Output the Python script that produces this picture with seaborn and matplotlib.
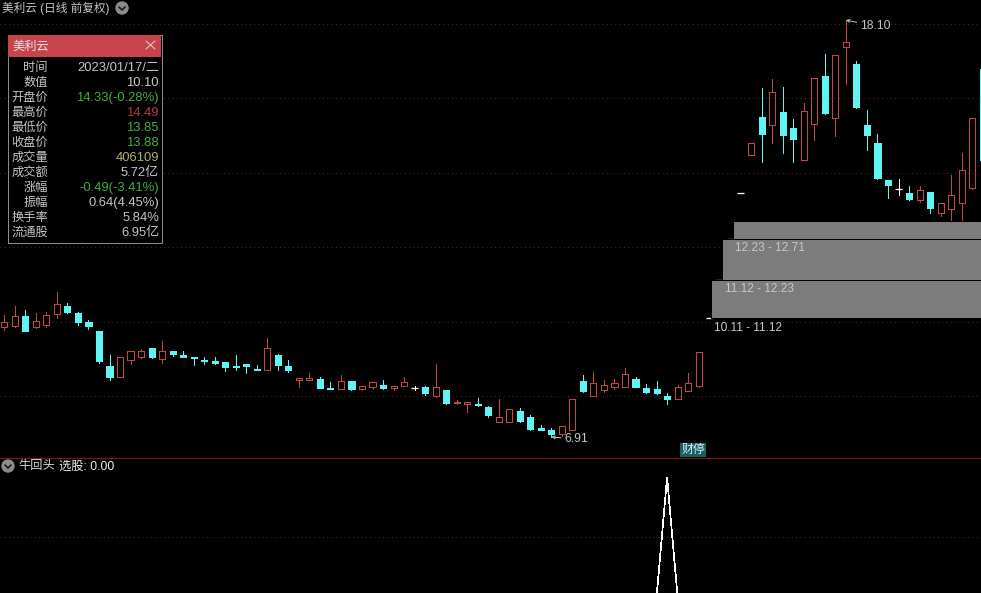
import matplotlib
matplotlib.use('Agg')
import matplotlib.pyplot as plt
from matplotlib.lines import Line2D
from matplotlib.patches import Rectangle, Circle
import numpy as np
import pandas as pd
import seaborn as sns

###################################
# colours of the trading software
red = "#c24848"
cyan = "#5ff5f5"
grid_red = "#5e2222"
grey = "#c4c4c4"
green = "#3fae3f"
###################################

opens = [9.87, 9.89, 10.16, 9.87, 9.92, 10.21, 10.43, 10.24, 10.00, 9.76,
         8.82, 8.52, 8.98, 9.06, 9.30, 9.01, 9.22, 9.11, 9.06, 8.98,
         8.95, 8.93, 8.82, 8.87, 8.74, 8.71, 9.11, 8.82, 8.44, 8.44,
         8.47, 8.23, 8.20, 8.42, 8.20, 8.26, 8.31, 8.23, 8.28, 8.23,
         8.26, 8.01, 8.18, 7.83, 7.80, 7.80, 7.72, 7.32, 7.32, 7.61,
         7.45, 7.16, 7.10, 7.00, 7.10, 8.42, 8.01, 8.18, 8.26, 8.26,
         8.47, 8.23, 8.20, 8.01, 7.93, 8.15, 8.28, 10.11, 11.12, 12.23,
         13.46, 14.48, 15.50, 15.29, 15.63, 15.21, 14.35, 15.31, 16.60, 15.47,
         17.38, 16.92, 15.29, 14.80, 13.81, 13.57, 13.46, 13.27, 13.49, 12.92,
         13.03, 13.19, 13.60, 16.79]
highs = [10.19, 10.43, 10.32, 10.24, 10.27, 10.80, 10.51, 10.27, 10.05, 9.76,
         9.11, 9.06, 9.22, 9.28, 9.30, 9.49, 9.22, 9.22, 9.06, 9.06,
         9.06, 8.93, 9.11, 8.87, 8.85, 9.57, 9.14, 8.98, 8.50, 8.63,
         8.52, 8.39, 8.58, 8.42, 8.28, 8.39, 8.44, 8.28, 8.52, 8.28,
         8.28, 8.87, 8.18, 7.91, 7.85, 7.96, 7.75, 7.93, 7.67, 7.69,
         7.50, 7.24, 7.16, 7.21, 7.93, 8.58, 8.66, 8.44, 8.47, 8.77,
         8.52, 8.34, 8.42, 8.10, 8.31, 8.63, 9.20, 10.11, 11.12, 12.23,
         13.46, 14.80, 16.28, 16.52, 16.31, 15.45, 15.88, 16.55, 17.19, 17.16,
         18.10, 17.00, 15.69, 15.04, 13.81, 13.84, 13.65, 13.65, 13.49, 13.19,
         13.94, 14.53, 15.47, 16.79]
lows = [9.79, 9.87, 9.76, 9.84, 9.87, 10.11, 10.24, 9.92, 9.81, 8.90,
        8.44, 8.52, 8.87, 9.03, 9.03, 8.90, 9.09, 9.06, 8.85, 8.87,
        8.87, 8.69, 8.71, 8.63, 8.71, 8.71, 8.71, 8.66, 8.26, 8.44,
        8.23, 8.20, 8.20, 8.18, 8.18, 8.20, 8.20, 8.18, 8.28, 8.18,
        8.04, 7.99, 7.80, 7.80, 7.59, 7.75, 7.45, 7.32, 7.32, 7.32,
        7.10, 7.10, 6.91, 6.94, 7.10, 8.12, 8.01, 8.12, 8.20, 8.26,
        8.26, 8.10, 8.07, 7.80, 7.93, 8.15, 8.26, 10.11, 11.12, 12.23,
        13.46, 14.48, 14.29, 14.80, 14.53, 14.29, 14.35, 14.88, 15.58, 14.99,
        16.39, 15.74, 14.61, 13.84, 13.33, 13.41, 13.27, 13.22, 12.92, 12.84,
        12.68, 12.68, 13.57, 14.35]
closes = [10.00, 10.16, 9.76, 10.03, 10.19, 10.48, 10.27, 10.00, 9.89, 8.95,
          8.52, 9.06, 9.22, 9.22, 9.06, 9.22, 9.14, 9.06, 9.03, 8.95,
          8.90, 8.79, 8.79, 8.82, 8.71, 9.30, 8.85, 8.71, 8.50, 8.50,
          8.23, 8.20, 8.42, 8.20, 8.28, 8.39, 8.23, 8.28, 8.39, 8.23,
          8.10, 8.26, 7.83, 7.85, 7.85, 7.77, 7.50, 7.45, 7.67, 7.34,
          7.13, 7.10, 7.00, 7.21, 7.93, 8.15, 8.36, 8.31, 8.36, 8.60,
          8.26, 8.12, 8.10, 7.93, 8.26, 8.36, 9.20, 10.11, 11.12, 12.23,
          13.46, 14.80, 15.04, 16.17, 15.02, 14.91, 15.66, 16.55, 15.61, 17.16,
          17.51, 15.77, 15.02, 13.86, 13.68, 13.57, 13.30, 13.54, 13.06, 13.19,
          13.41, 14.08, 15.47, 14.35]
stock_pick = [0] * 63 + [1] + [0] * 30

zone_lo = [10.11, 11.12, 12.23]
zone_hi = [11.12, 12.23, 12.71]
zone_start = [67.22, 68.22, 69.22]

info_labels = ["时间", "数值", "开盘价", "最高价", "最低价", "收盘价", "成交量",
               "成交额", "涨幅", "振幅", "换手率", "流通股"]
info_values = ["2023/01/17/二", "10.10", "14.33(-0.28%)", "14.49", "13.85", "13.88",
               "406109", "5.72亿", "-0.49(-3.41%)", "0.64(4.45%)", "5.84%", "6.95亿"]
info_colors = [grey, grey, green, "#b83a3a", green, green, "#b3ae6e", grey, green, grey, grey, grey]

W, H = 981, 593
SPLIT = 457.5
PX = 0.72  # one pixel in points

sns.set_theme(style="dark", rc={"figure.facecolor": "black", "axes.facecolor": "black"})
plt.rcParams['font.family'] = ['Liberation Sans', 'Noto Sans CJK SC', 'DejaVu Sans']

fig = plt.figure(figsize=(W / 100, H / 100), dpi=100)
ax = fig.add_axes([0, 1 - SPLIT / H, 1, SPLIT / H])
ax2 = fig.add_axes([0, 0, 1, 1 - (SPLIT + 1) / H])

df = pd.DataFrame({"idx": np.arange(len(opens)), "open": opens, "high": highs,
                   "low": lows, "close": closes})
df["top"] = df[["open", "close"]].max(axis=1)
df["bot"] = df[["open", "close"]].min(axis=1)
df["body"] = df["top"] - df["bot"]
df["color"] = np.where(df["close"] > df["open"], red, np.where(df["close"] < df["open"], cyan, "white"))

# wicks, split so they stay out of the hollow bodies
ax.vlines(df["idx"], df["top"], df["high"], colors=df["color"], lw=PX, zorder=2, antialiased=False)
ax.vlines(df["idx"], df["low"], df["bot"], colors=df["color"], lw=PX, zorder=2, antialiased=False)

up = df[df["close"] > df["open"]]
down = df[df["close"] < df["open"]]
flat = df[df["close"] == df["open"]]
sns.barplot(data=up, x="idx", y="body", bottom=up["bot"].values, native_scale=True, errorbar=None,
            fill=False, color=red, edgecolor=red, width=0.58, linewidth=PX, saturation=1, ax=ax, zorder=3,
            antialiased=False)
sns.barplot(data=down, x="idx", y="body", bottom=down["bot"].values, native_scale=True, errorbar=None,
            color=cyan, width=0.58, linewidth=PX, edgecolor=cyan, saturation=1, ax=ax, zorder=3,
            antialiased=False)
ax.hlines(flat["open"], flat["idx"] - 0.32, flat["idx"] + 0.32, colors="white", lw=PX * 1.3, zorder=3)

# chip zones sit on top of the candles
ax.barh([(a + b) / 2 for a, b in zip(zone_lo, zone_hi)], [100] * 3,
        height=[b - a for a, b in zip(zone_lo, zone_hi)], left=zone_start,
        color="#7c7c7c", edgecolor="black", linewidth=PX, zorder=4)

ax.set_xlim(-0.409, 92.84)
ax.set_ylim(6.36, 18.64)
ax.set_yticks([8, 10, 12, 14, 16, 18])
ax.grid(axis="y", color=grid_red, linestyle=(0, (1, 3.3)), linewidth=PX)
ax.grid(axis="x", visible=False)
ax.set_axisbelow(True)

sns.lineplot(x=df["idx"], y=stock_pick, color="white", linewidth=0.5, errorbar=None, ax=ax2,
             antialiased=False)
ax2.set_xlim(-0.409, 92.84)
ax2.set_ylim(0.033, 1.158)
ax2.set_yticks([0.5])
ax2.grid(axis="y", color=grid_red, linestyle=(0, (1, 3.3)), linewidth=PX)
ax2.grid(axis="x", visible=False)

for a in (ax, ax2):
    a.set_xlabel("")
    a.set_ylabel("")
    a.tick_params(left=False, bottom=False, labelleft=False, labelbottom=False)
    for s in a.spines.values():
        s.set_visible(False)


def fx(x):
    return x / W


def fy(y):
    return 1 - y / H


def label(x, y, s, color=grey, size=8.6, ha="left", zorder=10):
    fig.text(fx(x), fy(y + 1.5), s, color=color, fontsize=size, ha=ha, va="center", zorder=zorder)


def menu_dot(x, y):
    fig.add_artist(Circle((x, H - y), 6, transform=None, color="#8c8c8c", zorder=9))
    fig.add_artist(Line2D([fx(x - 3), fx(x), fx(x + 3)], [fy(y - 1), fy(y + 2), fy(y - 1)],
                          color="#1c1c1c", lw=1.2, zorder=10))


# separator between the panes
fig.add_artist(Line2D([0, 1], [fy(458), fy(458)], color="#6e1c1c", lw=0.9, zorder=8))

# header lines
label(2, 7, "美利云 (日线 前复权)", size=8.4)
menu_dot(122, 8)
menu_dot(8, 466)
label(18, 465, "牛回头", size=8.8, color="#d8d8d8")
label(59, 465, "选股: 0.00", size=8.8, color="#f0f0f0")

# info panel
fig.add_artist(Rectangle((fx(7.5), fy(242.5)), 154 / W, 207.5 / H, transform=fig.transFigure,
                         facecolor="black", edgecolor="#8a8a8a", lw=PX, zorder=8))
fig.add_artist(Rectangle((fx(8), fy(57)), 153 / W, 22 / H, transform=fig.transFigure,
                         facecolor="#c8444c", edgecolor="none", zorder=8.5))
label(12, 45, "美利云", color="#e6e6e6", size=8.8)
fig.add_artist(Line2D([fx(146), fx(155)], [fy(41), fy(49)], color="#e6c8c8", lw=PX, zorder=10))
fig.add_artist(Line2D([fx(146), fx(155)], [fy(49), fy(41)], color="#e6c8c8", lw=PX, zorder=10))
for k, (name, val, col) in enumerate(zip(info_labels, info_values, info_colors)):
    y = 66.5 + k * 15
    label(48, y, name, ha="right", size=8.8)
    label(159, y, val, color=col, ha="right", size=9.4)

# extreme price marks
ax.annotate(f"{max(highs):.2f}", xy=(80, max(highs)), xytext=(14, -6), textcoords="offset pixels",
            color=grey, fontsize=8.8, va="center", zorder=6,
            arrowprops=dict(arrowstyle="->", color=grey, lw=PX, shrinkA=0, shrinkB=0, mutation_scale=5))
ax.annotate(f"{min(lows):.2f}", xy=(52, min(lows)), xytext=(13, -2), textcoords="offset pixels",
            color=grey, fontsize=8.8, va="center", zorder=6,
            arrowprops=dict(arrowstyle="->", color=grey, lw=PX, shrinkA=0, shrinkB=0, mutation_scale=5))

# zone captions
for a, b, x, y in zip(zone_lo, zone_hi, [714, 725, 735], [326.5, 287.5, 246.5]):
    label(x, y, f"{a:.2f} - {b:.2f}", color="#c8c8c8")

# badge under the limit-up candle
fig.text(fx(693), fy(450), "财停", color="#d8f4f4", fontsize=8.6, ha="center", va="center", zorder=10,
         bbox=dict(boxstyle="square,pad=0.08", facecolor="#1d5c62", edgecolor="none"))

plt.savefig("out.png", dpi=100, facecolor="black")
